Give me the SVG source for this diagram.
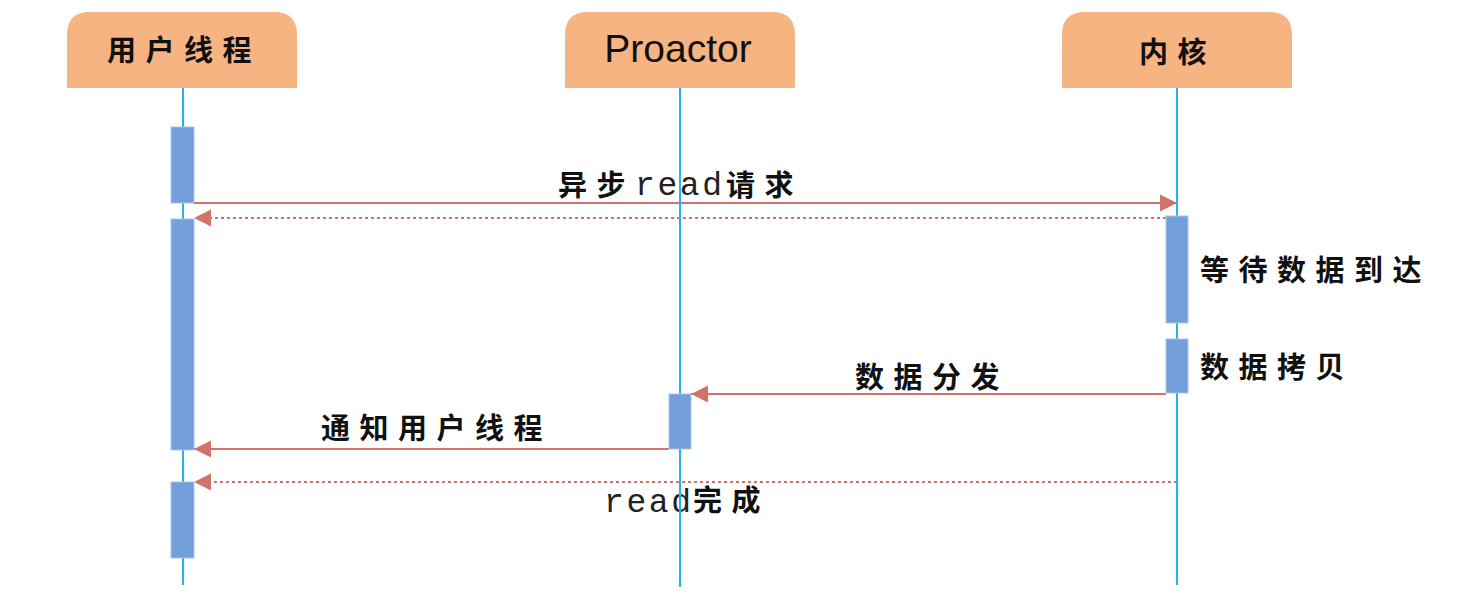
<svg xmlns="http://www.w3.org/2000/svg" width="1484" height="616" viewBox="0 0 1484 616">
<style>
.hdr{fill:#F5B482;}
.life{stroke:#22B4EE;stroke-width:2;fill:none;}
.act{fill:#739FDA;stroke:#A9C4EA;stroke-width:1;}
.msg{stroke:#CF736C;stroke-width:2;fill:none;}
.dash{stroke:#CF736C;stroke-width:2;fill:none;stroke-dasharray:3 3;}
.cn{font-family:"Noto Sans CJK SC","Noto Sans",sans-serif;font-weight:bold;font-size:29px;fill:#111;letter-spacing:9.5px;}
.mono{font-family:"Liberation Mono","DejaVu Sans Mono",monospace;font-size:33px;fill:#222;letter-spacing:2.6px;}
.title{font-family:"Liberation Sans","DejaVu Sans",sans-serif;font-size:39px;fill:#111;}
</style>
<defs>
<marker id="ah" markerUnits="userSpaceOnUse" markerWidth="18" markerHeight="18" viewBox="0 0 18 18" refX="17" refY="9" orient="auto">
<path d="M0,0.5 L17,9 L0,17.5 Z" fill="#CF736C"/>
</marker>
</defs>
<rect width="1484" height="616" fill="#FFFFFF"/>

<g id="connectors">
<line class="msg" x1="194" y1="203" x2="1177" y2="203" marker-end="url(#ah)"/>
<line class="dash" x1="1166" y1="218" x2="194" y2="218" marker-end="url(#ah)"/>
<line class="msg" x1="1166" y1="394" x2="691" y2="394" marker-end="url(#ah)"/>
<line class="msg" x1="669" y1="449" x2="194" y2="449" marker-end="url(#ah)"/>
<line class="dash" x1="1177" y1="482" x2="194" y2="482" marker-end="url(#ah)"/>
<text y="196"><tspan class="cn" x="558">异步</tspan><tspan class="mono" x="635" y="195">read</tspan><tspan class="cn" x="726" y="196">请求</tspan></text>
<text class="cn" x="855" y="388">数据分发</text>
<text class="cn" x="321" y="439">通知用户线程</text>
<text y="512"><tspan class="mono" x="604">read</tspan><tspan class="cn" x="693" y="511">完成</tspan></text>
</g>

<g id="user-thread">
<path class="hdr" d="M67,88 V35 Q67,12 90,12 H274 Q297,12 297,35 V88 Z"/>
<text class="cn" x="107" y="61">用户线程</text>
<line class="life" x1="183" y1="88" x2="183" y2="585"/>
<rect class="act" x="171" y="127" width="23" height="76"/>
<rect class="act" x="171" y="219" width="23" height="231"/>
<rect class="act" x="171" y="482" width="23" height="76"/>
</g>

<g id="proactor">
<path class="hdr" d="M565,88 V35 Q565,12 588,12 H772 Q795,12 795,35 V88 Z"/>
<text class="title" x="678" y="62" text-anchor="middle">Proactor</text>
<line class="life" x1="680" y1="88" x2="680" y2="587"/>
<rect class="act" x="669" y="394" width="22" height="55"/>
</g>

<g id="kernel">
<path class="hdr" d="M1062,88 V35 Q1062,12 1085,12 H1269 Q1292,12 1292,35 V88 Z"/>
<text class="cn" x="1139" y="63">内核</text>
<line class="life" x1="1177" y1="88" x2="1177" y2="585"/>
<rect class="act" x="1166" y="216" width="22" height="107"/>
<rect class="act" x="1166" y="339" width="22" height="54"/>
<text class="cn" x="1200" y="281">等待数据到达</text>
<text class="cn" x="1200" y="378">数据拷贝</text>
</g>
</svg>
